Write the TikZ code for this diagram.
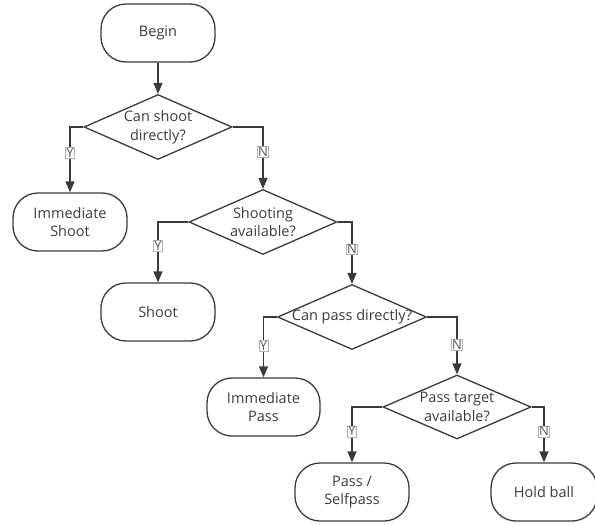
\documentclass[tikz,border=0pt]{standalone}
\usepackage{fontspec}
\setmainfont{Open Sans}
\usetikzlibrary{shapes.geometric,arrows.meta}
\definecolor{linec}{HTML}{3A3A3A}
\definecolor{textc}{HTML}{3C3C3C}
\begin{document}
\begin{tikzpicture}[x=1pt,y=-1pt,
  term/.style={draw=linec, line width=1.3pt, rounded corners=25pt, minimum width=114pt, minimum height=58pt, align=center, text=textc, font=\fontsize{14.5}{18.5}\selectfont},
  dia/.style={draw=linec, shape=diamond, line width=1.3pt, inner sep=0pt, minimum width=148pt, minimum height=65pt},
  dtext/.style={align=center, text=textc, font=\fontsize{14.5}{18.5}\selectfont, inner sep=0pt},
  lab/.style={draw=black!30, line width=0.5pt, fill=white, inner sep=0.8pt, text=textc!85, font=\fontsize{13}{13}\selectfont},
  arr/.style={draw=linec, line width=1.3pt, -{Triangle[length=11pt,width=9pt]}}]
\useasboundingbox (0,0) rectangle (595,525);
\node[term] (begin) at (158,33) {Begin};
\node[dia, label={[dtext]center:{Can shoot\\directly?}}] (d1) at (158,127) {};
\node[term] (imshoot) at (70,222) {Immediate\\Shoot};
\node[dia, label={[dtext]center:{Shooting\\available?}}] (d2) at (263,222) {};
\node[term] (shoot) at (158,312) {Shoot};
\node[dia, minimum width=149pt, label={[dtext]center:{Can pass directly?}}] (d3) at (352,317) {};
\node[term, minimum width=113pt] (impass) at (263.5,407) {Immediate\\Pass};
\node[dia, minimum height=64pt, label={[dtext]center:{Pass target\\available?}}] (d4) at (457,407) {};
\node[term] (pass) at (352,492) {Pass /\\Selfpass};
\node[term, minimum width=106pt] (hold) at (544,492) {Hold ball};

\draw[arr] (begin) -- (d1);
\draw[arr] (d1.west) -| node[lab,pos=0.7]{Y} (imshoot.north);
\draw[arr] (d1.east) -| node[lab,pos=0.7]{N} (d2.north);
\draw[arr] (d2.west) -| node[lab,pos=0.7]{Y} (shoot.north);
\draw[arr] (d2.east) -| node[lab,pos=0.72]{N} (d3.north);
\draw[arr] (d3.west) -| node[lab,pos=0.74]{Y} (impass.north);
\draw[arr] (d3.east) -| node[lab,pos=0.74]{N} (d4.north);
\draw[arr] (d4.west) -| node[lab,pos=0.72]{Y} (pass.north);
\draw[arr] (d4.east) -| node[lab,pos=0.72]{N} (hold.north);
\end{tikzpicture}
\end{document}
